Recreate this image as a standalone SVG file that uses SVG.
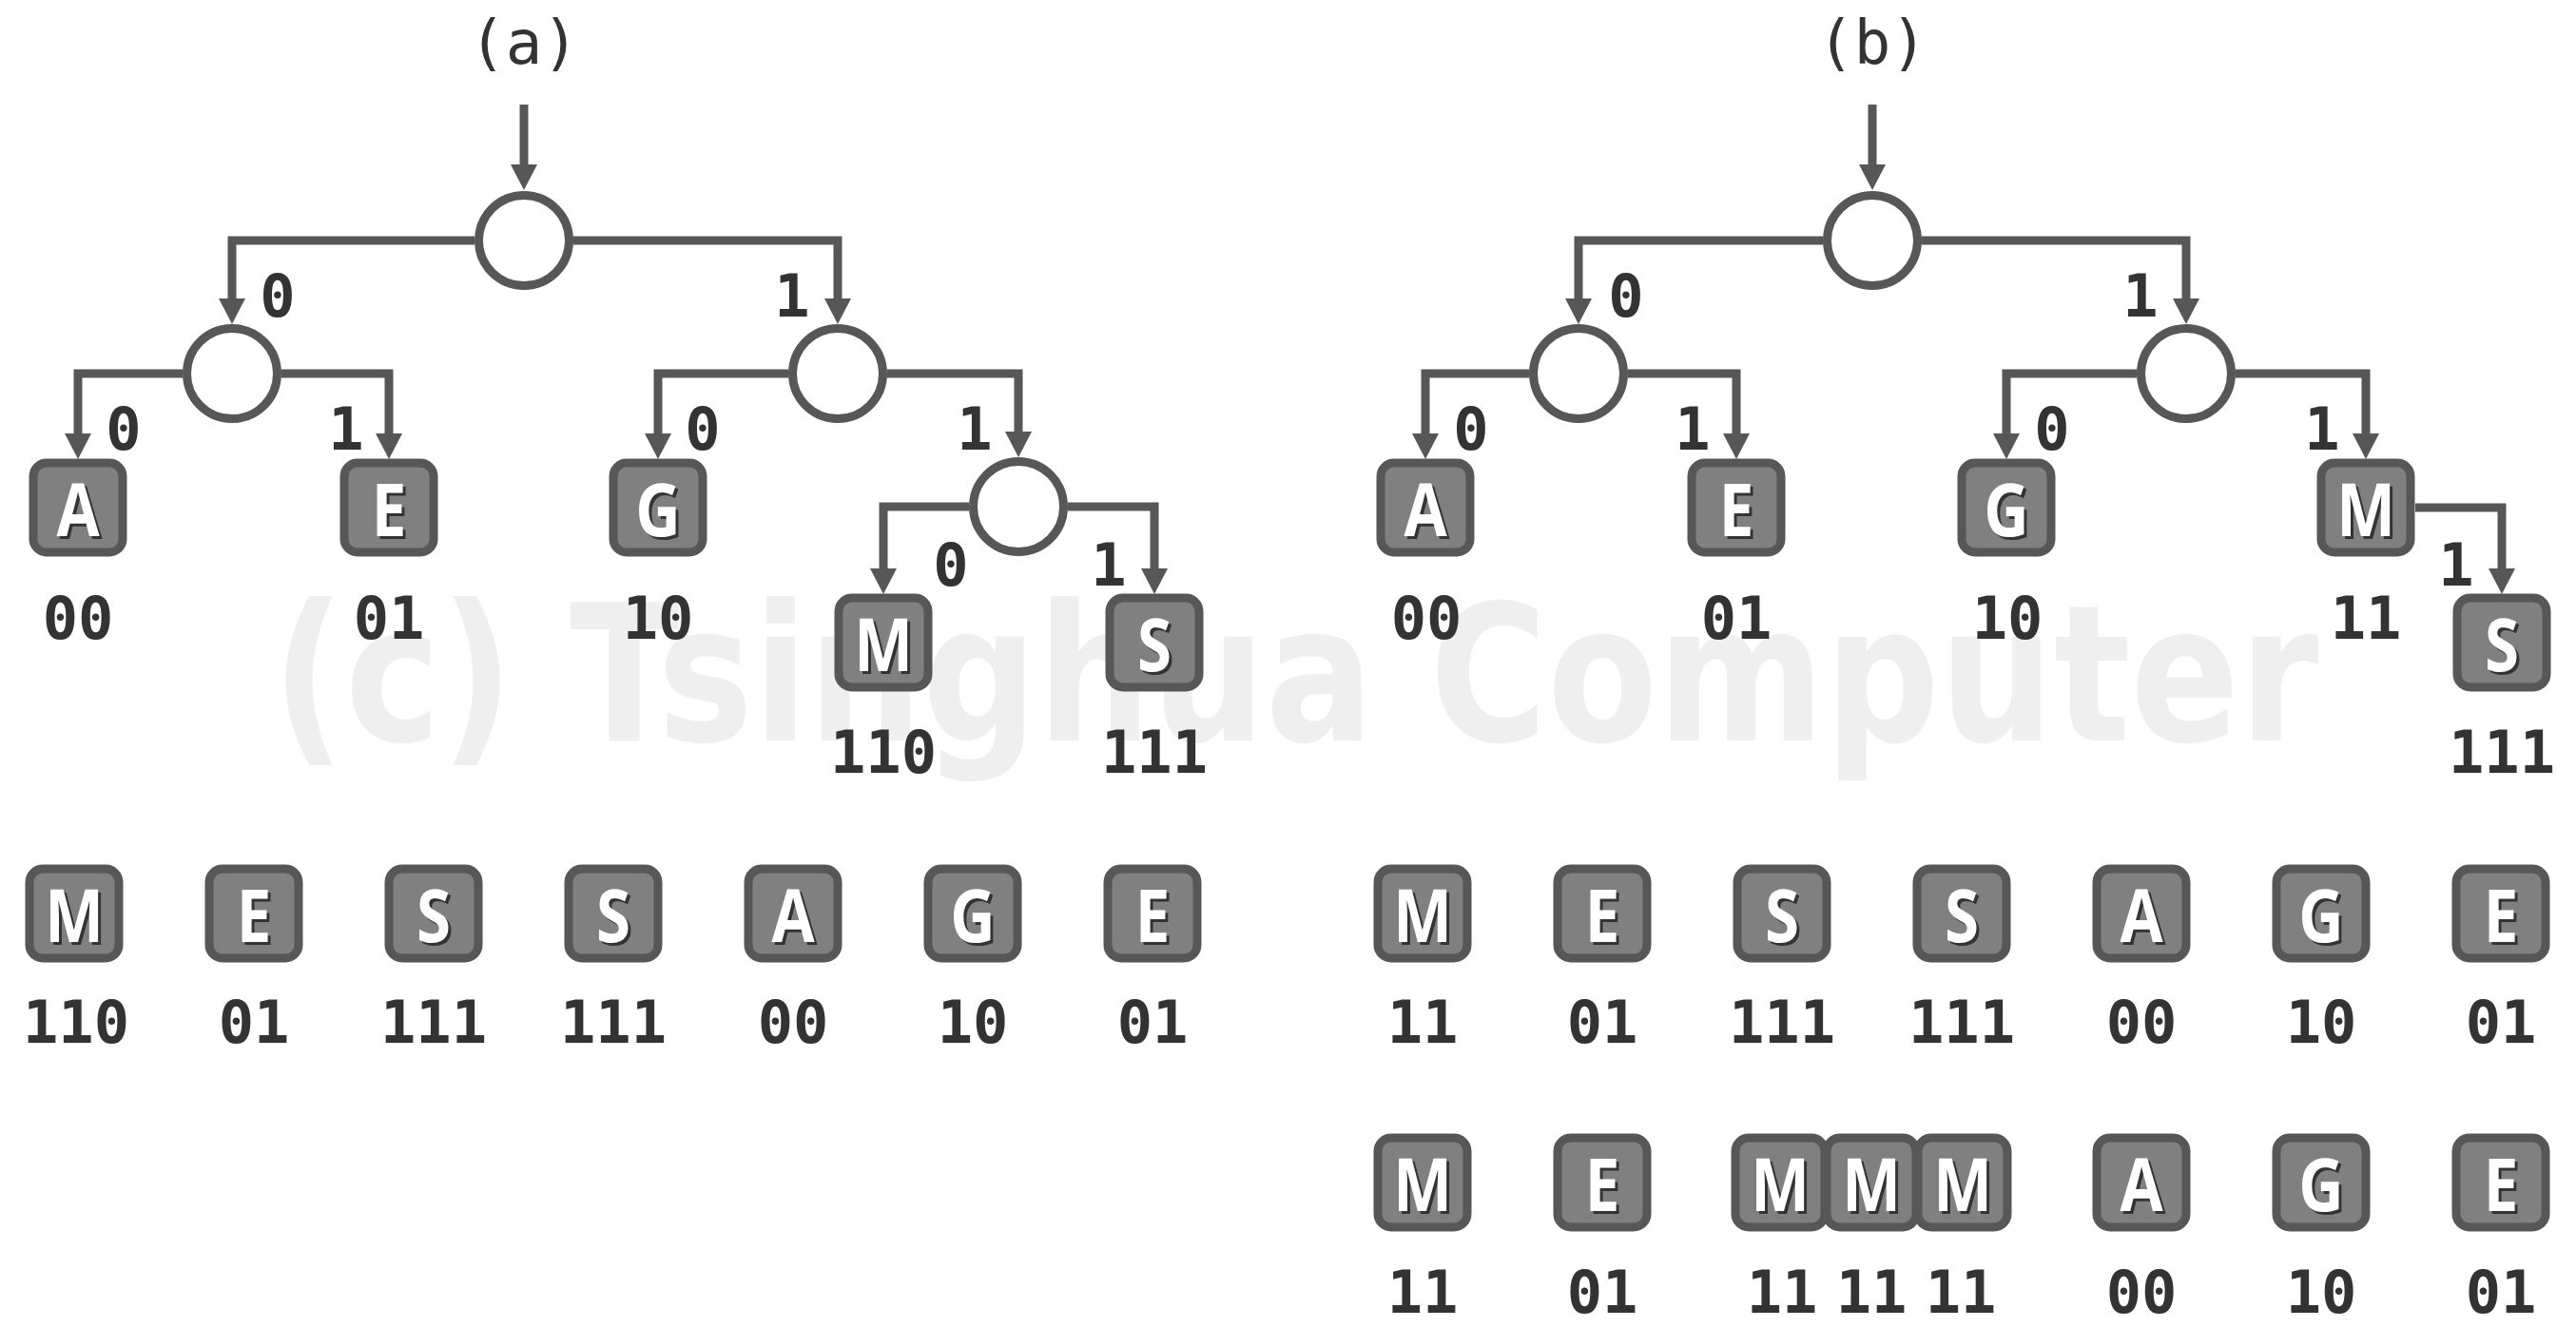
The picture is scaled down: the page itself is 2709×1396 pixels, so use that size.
<svg xmlns="http://www.w3.org/2000/svg" width="2709" height="1396" viewBox="0 0 2709 1396">
<style>
.wm{font-family:"DejaVu Sans","Open Sans",sans-serif;font-weight:bold;font-size:200px;fill:#efefef}
.ln{fill:none;stroke:#575757;stroke-width:9;marker-end:url(#ah)}
.nd{fill:#fff;stroke:#575757;stroke-width:9}
.box{fill:#808080;stroke:#575757;stroke-width:9}
.lt{font-family:"Open Sans","DejaVu Sans",sans-serif;font-weight:bold;font-size:77px;fill:#fff;text-anchor:middle}
.sh{font-family:"Open Sans","DejaVu Sans",sans-serif;font-weight:bold;font-size:77px;fill:#333;text-anchor:middle}
.cd{font-family:"DejaVu Sans Mono","Liberation Mono",monospace;font-weight:bold;font-size:62px;fill:#333;text-anchor:middle}
.tt{font-family:"DejaVu Sans Mono","Liberation Mono",monospace;font-size:64px;fill:#333;text-anchor:middle}
</style>
<defs>
<marker id="ah" viewBox="0 0 27 28" refX="7" refY="14" markerWidth="27" markerHeight="28" markerUnits="userSpaceOnUse" orient="auto">
<path d="M0,0 L27,14 L0,28 Z" fill="#575757"/>
</marker>
</defs>
<rect width="2709" height="1396" fill="#fff"/>
<text class="wm" x="286" y="779" textLength="2152" lengthAdjust="spacingAndGlyphs">(c) Tsinghua Computer</text>

<text class="tt" x="551" y="67">(a)</text>
<text class="tt" x="1969" y="67">(b)</text>

<g id="connectors">
<path class="ln" d="M551,110 V180"/>
<path class="ln" d="M499,253 H244 V321"/>
<path class="ln" d="M603,253 H881 V321"/>
<path class="ln" d="M192,393 H82 V463"/>
<path class="ln" d="M296,393 H409 V463"/>
<path class="ln" d="M829,393 H692 V463"/>
<path class="ln" d="M933,393 H1071 V461"/>
<path class="ln" d="M1019,533 H929 V605"/>
<path class="ln" d="M1123,533 H1214 V605"/>
<path class="ln" d="M1969,110 V180"/>
<path class="ln" d="M1917,253 H1660 V321"/>
<path class="ln" d="M2021,253 H2299 V321"/>
<path class="ln" d="M1608,393 H1499 V463"/>
<path class="ln" d="M1712,393 H1826 V463"/>
<path class="ln" d="M2247,393 H2110 V463"/>
<path class="ln" d="M2351,393 H2488 V463"/>
<path class="ln" d="M2540,534 H2631 V605"/>
<g class="cd">
<text x="292" y="333">0</text><text x="833" y="333">1</text>
<text x="130" y="473">0</text><text x="364" y="473">1</text>
<text x="739" y="473">0</text><text x="1025" y="473">1</text>
<text x="1000" y="616">0</text><text x="1166" y="616">1</text>
<text x="1710" y="333">0</text><text x="2251" y="333">1</text>
<text x="1547" y="473">0</text><text x="1780" y="473">1</text>
<text x="2158" y="473">0</text><text x="2442" y="473">1</text>
<text x="2583" y="616">1</text>
</g>
</g>

<!-- tree a internal nodes -->
<g id="a-root"><circle class="nd" cx="551" cy="253" r="47.5"/></g>
<g id="a-n0"><circle class="nd" cx="244" cy="393" r="47.5"/></g>
<g id="a-n1"><circle class="nd" cx="881" cy="393" r="47.5"/></g>
<g id="a-n11"><circle class="nd" cx="1071" cy="533" r="47.5"/></g>
<!-- tree b internal nodes -->
<g id="b-root"><circle class="nd" cx="1969" cy="253" r="47.5"/></g>
<g id="b-n0"><circle class="nd" cx="1660" cy="393" r="47.5"/></g>
<g id="b-n1"><circle class="nd" cx="2299" cy="393" r="47.5"/></g>

<!-- tree a leaves -->
<g id="a-A"><rect class="box" x="35" y="487" width="94" height="94" rx="14"/><text class="sh" transform="translate(85,567) scale(0.85,1)">A</text><text class="lt" transform="translate(82,564) scale(0.85,1)">A</text><text class="cd" x="82" y="672">00</text></g>
<g id="a-E"><rect class="box" x="362" y="487" width="94" height="94" rx="14"/><text class="sh" transform="translate(412,567) scale(0.85,1)">E</text><text class="lt" transform="translate(409,564) scale(0.85,1)">E</text><text class="cd" x="409" y="672">01</text></g>
<g id="a-G"><rect class="box" x="645" y="487" width="94" height="94" rx="14"/><text class="sh" transform="translate(695,567) scale(0.85,1)">G</text><text class="lt" transform="translate(692,564) scale(0.85,1)">G</text><text class="cd" x="692" y="672">10</text></g>
<g id="a-M"><rect class="box" x="882" y="629" width="94" height="94" rx="14"/><text class="sh" transform="translate(932,709) scale(0.85,1)">M</text><text class="lt" transform="translate(929,706) scale(0.85,1)">M</text><text class="cd" x="929" y="813">110</text></g>
<g id="a-S"><rect class="box" x="1167" y="629" width="94" height="94" rx="14"/><text class="sh" transform="translate(1217,709) scale(0.85,1)">S</text><text class="lt" transform="translate(1214,706) scale(0.85,1)">S</text><text class="cd" x="1214" y="813">111</text></g>

<!-- tree b leaves -->
<g id="b-A"><rect class="box" x="1452" y="487" width="94" height="94" rx="14"/><text class="sh" transform="translate(1502,567) scale(0.85,1)">A</text><text class="lt" transform="translate(1499,564) scale(0.85,1)">A</text><text class="cd" x="1500" y="672">00</text></g>
<g id="b-E"><rect class="box" x="1779" y="487" width="94" height="94" rx="14"/><text class="sh" transform="translate(1829,567) scale(0.85,1)">E</text><text class="lt" transform="translate(1826,564) scale(0.85,1)">E</text><text class="cd" x="1826" y="672">01</text></g>
<g id="b-G"><rect class="box" x="2063" y="487" width="94" height="94" rx="14"/><text class="sh" transform="translate(2113,567) scale(0.85,1)">G</text><text class="lt" transform="translate(2110,564) scale(0.85,1)">G</text><text class="cd" x="2111" y="672">10</text></g>
<g id="b-M"><rect class="box" x="2441" y="487" width="94" height="94" rx="14"/><text class="sh" transform="translate(2491,567) scale(0.85,1)">M</text><text class="lt" transform="translate(2488,564) scale(0.85,1)">M</text><text class="cd" x="2488" y="672">11</text></g>
<g id="b-S"><rect class="box" x="2584" y="629" width="94" height="94" rx="14"/><text class="sh" transform="translate(2634,709) scale(0.85,1)">S</text><text class="lt" transform="translate(2631,706) scale(0.85,1)">S</text><text class="cd" x="2631" y="813">111</text></g>

<!-- message row a -->
<g id="ra-1"><rect class="box" x="31" y="914" width="94" height="94" rx="14"/><text class="sh" transform="translate(81,994) scale(0.85,1)">M</text><text class="lt" transform="translate(78,991) scale(0.85,1)">M</text><text class="cd" x="80" y="1097">110</text></g>
<g id="ra-2"><rect class="box" x="220" y="914" width="94" height="94" rx="14"/><text class="sh" transform="translate(270,994) scale(0.85,1)">E</text><text class="lt" transform="translate(267,991) scale(0.85,1)">E</text><text class="cd" x="267" y="1097">01</text></g>
<g id="ra-3"><rect class="box" x="409" y="914" width="94" height="94" rx="14"/><text class="sh" transform="translate(459,994) scale(0.85,1)">S</text><text class="lt" transform="translate(456,991) scale(0.85,1)">S</text><text class="cd" x="456" y="1097">111</text></g>
<g id="ra-4"><rect class="box" x="598" y="914" width="94" height="94" rx="14"/><text class="sh" transform="translate(648,994) scale(0.85,1)">S</text><text class="lt" transform="translate(645,991) scale(0.85,1)">S</text><text class="cd" x="645" y="1097">111</text></g>
<g id="ra-5"><rect class="box" x="787" y="914" width="94" height="94" rx="14"/><text class="sh" transform="translate(837,994) scale(0.85,1)">A</text><text class="lt" transform="translate(834,991) scale(0.85,1)">A</text><text class="cd" x="834" y="1097">00</text></g>
<g id="ra-6"><rect class="box" x="976" y="914" width="94" height="94" rx="14"/><text class="sh" transform="translate(1026,994) scale(0.85,1)">G</text><text class="lt" transform="translate(1023,991) scale(0.85,1)">G</text><text class="cd" x="1023" y="1097">10</text></g>
<g id="ra-7"><rect class="box" x="1165" y="914" width="94" height="94" rx="14"/><text class="sh" transform="translate(1215,994) scale(0.85,1)">E</text><text class="lt" transform="translate(1212,991) scale(0.85,1)">E</text><text class="cd" x="1212" y="1097">01</text></g>

<!-- message row b1 -->
<g id="rb-1"><rect class="box" x="1449" y="914" width="94" height="94" rx="14"/><text class="sh" transform="translate(1499,994) scale(0.85,1)">M</text><text class="lt" transform="translate(1496,991) scale(0.85,1)">M</text><text class="cd" x="1496" y="1097">11</text></g>
<g id="rb-2"><rect class="box" x="1638" y="914" width="94" height="94" rx="14"/><text class="sh" transform="translate(1688,994) scale(0.85,1)">E</text><text class="lt" transform="translate(1685,991) scale(0.85,1)">E</text><text class="cd" x="1685" y="1097">01</text></g>
<g id="rb-3"><rect class="box" x="1827" y="914" width="94" height="94" rx="14"/><text class="sh" transform="translate(1877,994) scale(0.85,1)">S</text><text class="lt" transform="translate(1874,991) scale(0.85,1)">S</text><text class="cd" x="1874" y="1097">111</text></g>
<g id="rb-4"><rect class="box" x="2016" y="914" width="94" height="94" rx="14"/><text class="sh" transform="translate(2066,994) scale(0.85,1)">S</text><text class="lt" transform="translate(2063,991) scale(0.85,1)">S</text><text class="cd" x="2063" y="1097">111</text></g>
<g id="rb-5"><rect class="box" x="2205" y="914" width="94" height="94" rx="14"/><text class="sh" transform="translate(2255,994) scale(0.85,1)">A</text><text class="lt" transform="translate(2252,991) scale(0.85,1)">A</text><text class="cd" x="2252" y="1097">00</text></g>
<g id="rb-6"><rect class="box" x="2394" y="914" width="94" height="94" rx="14"/><text class="sh" transform="translate(2444,994) scale(0.85,1)">G</text><text class="lt" transform="translate(2441,991) scale(0.85,1)">G</text><text class="cd" x="2441" y="1097">10</text></g>
<g id="rb-7"><rect class="box" x="2583" y="914" width="94" height="94" rx="14"/><text class="sh" transform="translate(2633,994) scale(0.85,1)">E</text><text class="lt" transform="translate(2630,991) scale(0.85,1)">E</text><text class="cd" x="2630" y="1097">01</text></g>

<!-- message row b2 -->
<g id="rc-1"><rect class="box" x="1449" y="1197" width="94" height="94" rx="14"/><text class="sh" transform="translate(1499,1277) scale(0.85,1)">M</text><text class="lt" transform="translate(1496,1274) scale(0.85,1)">M</text><text class="cd" x="1496" y="1381">11</text></g>
<g id="rc-2"><rect class="box" x="1638" y="1197" width="94" height="94" rx="14"/><text class="sh" transform="translate(1688,1277) scale(0.85,1)">E</text><text class="lt" transform="translate(1685,1274) scale(0.85,1)">E</text><text class="cd" x="1685" y="1381">01</text></g>
<g id="rc-3"><rect class="box" x="1825" y="1197" width="94" height="94" rx="14"/><text class="sh" transform="translate(1875,1277) scale(0.85,1)">M</text><text class="lt" transform="translate(1872,1274) scale(0.85,1)">M</text><text class="cd" x="1874" y="1381">11</text></g>
<g id="rc-4"><rect class="box" x="1921" y="1197" width="94" height="94" rx="14"/><text class="sh" transform="translate(1971,1277) scale(0.85,1)">M</text><text class="lt" transform="translate(1968,1274) scale(0.85,1)">M</text><text class="cd" x="1968" y="1381">11</text></g>
<g id="rc-5"><rect class="box" x="2017" y="1197" width="94" height="94" rx="14"/><text class="sh" transform="translate(2067,1277) scale(0.85,1)">M</text><text class="lt" transform="translate(2064,1274) scale(0.85,1)">M</text><text class="cd" x="2062" y="1381">11</text></g>
<g id="rc-6"><rect class="box" x="2205" y="1197" width="94" height="94" rx="14"/><text class="sh" transform="translate(2255,1277) scale(0.85,1)">A</text><text class="lt" transform="translate(2252,1274) scale(0.85,1)">A</text><text class="cd" x="2252" y="1381">00</text></g>
<g id="rc-7"><rect class="box" x="2394" y="1197" width="94" height="94" rx="14"/><text class="sh" transform="translate(2444,1277) scale(0.85,1)">G</text><text class="lt" transform="translate(2441,1274) scale(0.85,1)">G</text><text class="cd" x="2441" y="1381">10</text></g>
<g id="rc-8"><rect class="box" x="2583" y="1197" width="94" height="94" rx="14"/><text class="sh" transform="translate(2633,1277) scale(0.85,1)">E</text><text class="lt" transform="translate(2630,1274) scale(0.85,1)">E</text><text class="cd" x="2630" y="1381">01</text></g>
</svg>
